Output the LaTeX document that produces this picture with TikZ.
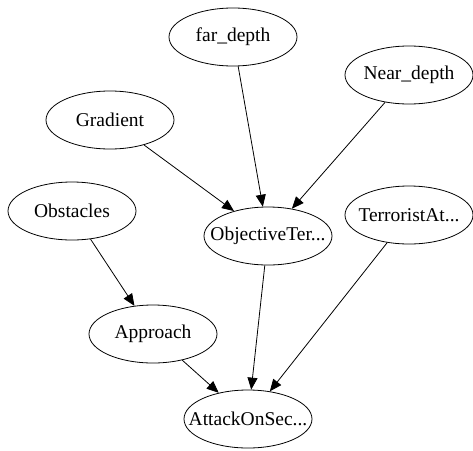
\documentclass[tikz,border=0pt]{standalone}
\usepackage{fontspec}
\setmainfont{Liberation Serif}
\usetikzlibrary{shapes.geometric,arrows.meta}
\begin{document}
\begin{tikzpicture}[x=1pt,y=-1pt,
  nd/.style={ellipse,draw,line width=0.8pt,minimum width=128pt,minimum height=58pt,inner sep=0pt,
    label={[font=\fontsize{19.5}{22}\selectfont,inner sep=0pt]center:#1}},
  ed/.style={line width=0.8pt,-{Triangle[length=12pt,width=10pt]}}]
\useasboundingbox (0,0) rectangle (473,450);
\node[nd={far\_depth}] (far) at (233,37) {};
\node[nd={Near\_depth}] (near) at (409,75) {};
\node[nd={Gradient}] (grad) at (110,120) {};
\node[nd={Obstacles}] (obs) at (72,211) {};
\node[nd={ObjectiveTer...}] (obj) at (268,236) {};
\node[nd={TerroristAt...}] (ter) at (409,215) {};
\node[nd={Approach}] (app) at (153,334) {};
\node[nd={AttackOnSec...}] (att) at (248,419) {};
\draw[ed] (far) -- (obj);
\draw[ed] (near) -- (obj);
\draw[ed] (grad) -- (obj);
\draw[ed] (obs) -- (app);
\draw[ed] (obj) -- (att);
\draw[ed] (ter) -- (att);
\draw[ed] (app) -- (att);
\end{tikzpicture}
\end{document}
